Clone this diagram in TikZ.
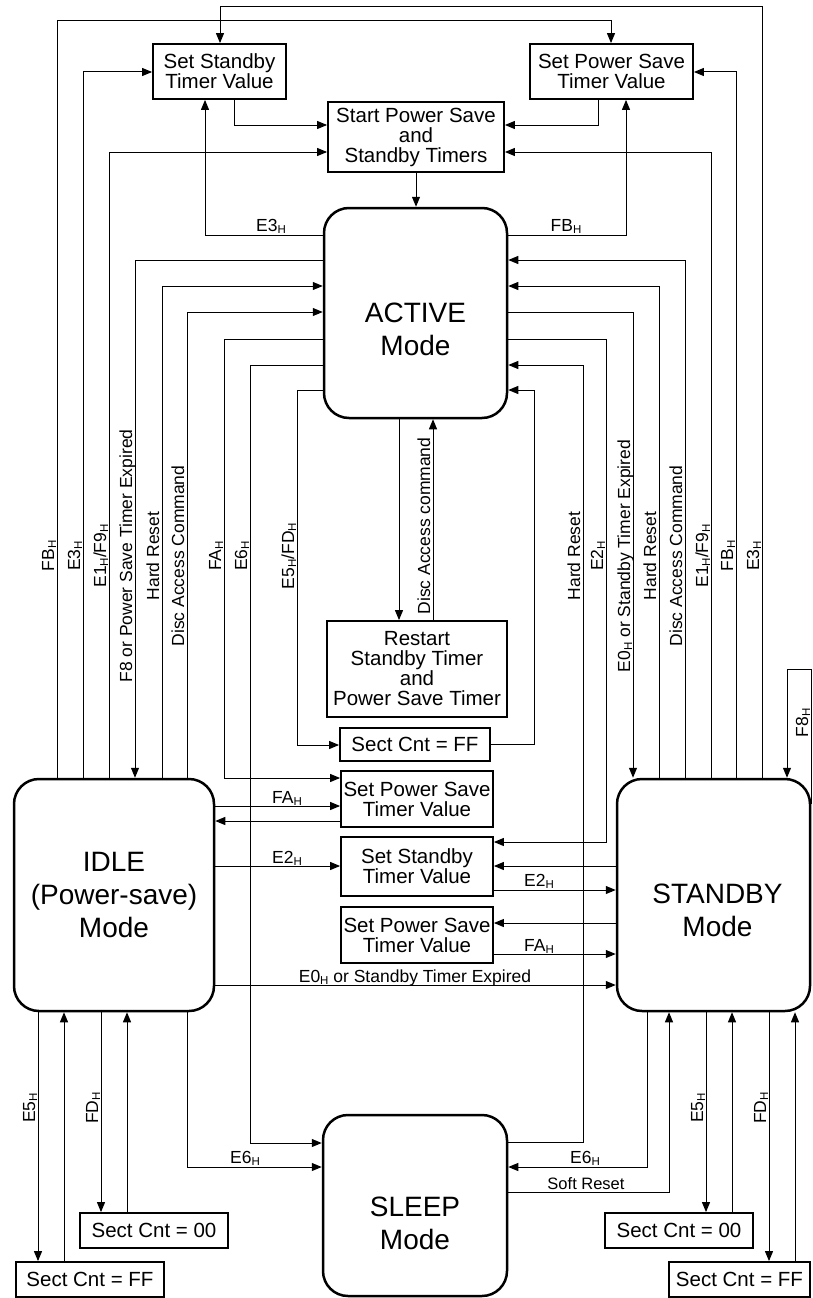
\documentclass[tikz,border=0pt]{standalone}
\usepackage{fontspec}
\setmainfont{Liberation Sans}
\usetikzlibrary{arrows.meta}
\newcommand\hs{\raisebox{-2pt}{\fontsize{11.5}{11.5}\selectfont H}}
\newcommand\boxfont{\fontsize{20.5}{20}\selectfont}
\newcommand\statefont{\fontsize{28}{33}\selectfont}
\newcommand\labfont{\fontsize{17.5}{18}\selectfont}
\begin{document}
\begin{tikzpicture}[x=1pt, y=-1pt,
  conn/.style={line width=1pt},
  arr/.style={conn, -{Triangle[length=10pt,width=8pt]}},
  box/.style={draw, line width=1.8pt, inner sep=0pt, align=center, font=\boxfont},
  state/.style={draw, line width=2.5pt, rounded corners=25pt, inner sep=0pt},
  stext/.style={align=center, font=\statefont, inner sep=0pt},
  lab/.style={font=\labfont, inner sep=0pt, anchor=base},
  vlab/.style={lab, rotate=90}]
\useasboundingbox (0,0) rectangle (812,1298);

% ---- nodes
\node[box, minimum width=133pt, minimum height=55pt] (setstby) at (219.5,71.5) {Set Standby\\Timer Value};
\node[box, minimum width=163pt, minimum height=55pt] (setps) at (611.5,71.5) {Set Power Save\\Timer Value};
\node[box, minimum width=176pt, minimum height=70pt] (start) at (416,137) {Start Power Save\\and\\Standby Timers};
\node[state, minimum width=183pt, minimum height=210pt, label={[stext,yshift=-16pt]center:ACTIVE\\Mode}] (active) at (415.5,313) {};
\node[box, minimum width=180pt, minimum height=96pt] (restart) at (417,669) {Restart\\Standby Timer\\and\\Power Save Timer};
\node[box, minimum width=150pt, minimum height=33pt] (sectffm) at (415,744.5) {Sect Cnt = FF};
\node[box, minimum width=152pt, minimum height=56pt] (box1) at (417,799) {Set Power Save\\Timer Value};
\node[box, minimum width=152pt, minimum height=59pt] (box2) at (417,866.5) {Set Standby\\Timer Value};
\node[box, minimum width=152pt, minimum height=56pt] (box3) at (417,935) {Set Power Save\\Timer Value};
\node[state, minimum width=200pt, minimum height=232pt, label={[stext]center:IDLE\\(Power-save)\\Mode}] (idle) at (114,895) {};
\node[state, minimum width=193pt, minimum height=232pt, label={[stext,xshift=4pt,yshift=-15pt]center:STANDBY\\Mode}] (standby) at (713.5,895) {};
\node[state, minimum width=184pt, minimum height=181pt, label={[stext,yshift=-18pt]center:SLEEP\\Mode}] (sleep) at (415,1205.5) {};
\node[box, minimum width=148pt, minimum height=35pt] (sect00l) at (154,1230.5) {Sect Cnt = 00};
\node[box, minimum width=148pt, minimum height=35pt] (sectffl) at (90,1279.5) {Sect Cnt = FF};
\node[box, minimum width=148pt, minimum height=35pt] (sect00r) at (679,1230.5) {Sect Cnt = 00};
\node[box, minimum width=141pt, minimum height=35pt] (sectffr) at (739.5,1279.5) {Sect Cnt = FF};

% ---- top connectors
\draw[arr] (762,0 |- standby.north) |- (220,7) -- (220,0 |- setstby.north);
\draw[arr] (57,0 |- idle.north) |- (611,21) -- (611,0 |- setps.north);
\draw[arr] (83,0 |- idle.north) |- (setstby.west |- 0,72);
\draw[arr] (736,0 |- standby.north) |- (setps.east |- 0,72);
\draw[arr] (109,0 |- idle.north) |- (start.west |- 0,152);
\draw[arr] (711,0 |- standby.north) |- (start.east |- 0,152);
\draw[arr] (234,0 |- setstby.south) |- (start.west |- 0,125);
\draw[arr] (598,0 |- setps.south) |- (start.east |- 0,125);
\draw[arr] (start.south) -- (start.south |- active.north);
\draw[arr] (active.west |- 0,235) -| (205,0 |- setstby.south);
\draw[arr] (active.east |- 0,235) -| (626,0 |- setps.south);

% ---- left of ACTIVE
\draw[arr] (active.west |- 0,260) -| (135,0 |- idle.north);
\draw[arr] (162,0 |- idle.north) |- (active.west |- 0,286);
\draw[arr] (187,0 |- idle.north) |- (active.west |- 0,312);
\draw[arr] (active.west |- 0,339) -| (224,778) -- (box1.west |- 0,778);
\draw[arr] (active.west |- 0,365) -| (250,1143) -- (sleep.west |- 0,1143);
\draw[arr] (active.west |- 0,390) -| (297,745) -- (sectffm.west |- 0,745);

% ---- right of ACTIVE
\draw[arr] (685,0 |- standby.north) |- (active.east |- 0,260);
\draw[arr] (659,0 |- standby.north) |- (active.east |- 0,286);
\draw[arr] (active.east |- 0,312) -| (633,0 |- standby.north);
\draw[arr] (active.east |- 0,339) -| (606,842) -- (box2.east |- 0,842);
\draw[arr] (sleep.east |- 0,1142) -| (583,365) -- (active.east |- 0,365);
\draw[arr] (sectffm.east |- 0,744) -| (534,390) -- (active.east |- 0,390);

% ---- ACTIVE <-> restart
\draw[arr] (399,0 |- active.south) -- (399,0 |- restart.north);
\draw[arr] (433,0 |- restart.north) -- (433,0 |- active.south);

% ---- IDLE / STANDBY and middle boxes
\draw[arr] (idle.east |- 0,806) -- (box1.west |- 0,806);
\draw[arr] (box1.west |- 0,821) -- (idle.east |- 0,821);
\draw[arr] (idle.east |- 0,866) -- (box2.west |- 0,866);
\draw[arr] (standby.west |- 0,866) -- (box2.east |- 0,866);
\draw[arr] (box2.east |- 0,890) -- (standby.west |- 0,890);
\draw[arr] (standby.west |- 0,923) -- (box3.east |- 0,923);
\draw[arr] (box3.east |- 0,954) -- (standby.west |- 0,954);
\draw[arr] (idle.east |- 0,985) -- (standby.west |- 0,985);

% ---- IDLE bottom
\draw[arr] (38,0 |- idle.south) -- (38,0 |- sectffl.north);
\draw[arr] (64,0 |- sectffl.north) -- (64,0 |- idle.south);
\draw[arr] (101,0 |- idle.south) -- (101,0 |- sect00l.north);
\draw[arr] (127,0 |- sect00l.north) -- (127,0 |- idle.south);
\draw[arr] (187,0 |- idle.south) |- (sleep.west |- 0,1167);

% ---- STANDBY bottom
\draw[arr] (647,0 |- standby.south) |- (sleep.east |- 0,1167);
\draw[arr] (sleep.east |- 0,1192) -| (669,0 |- standby.south);
\draw[arr] (706,0 |- standby.south) -- (706,0 |- sect00r.north);
\draw[arr] (732,0 |- sect00r.north) -- (732,0 |- standby.south);
\draw[arr] (769,0 |- standby.south) -- (769,0 |- sectffr.north);
\draw[arr] (795,0 |- sectffr.north) -- (795,0 |- standby.south);

% ---- F8 self loop
\draw[arr] (standby.east |- 0,804) |- (787,669) -- (787,0 |- standby.north);

% ---- horizontal labels
\node[lab] at (271,231.5) {E3\hs};
\node[lab] at (566,231.5) {FB\hs};
\node[lab] at (287,803) {FA\hs};
\node[lab] at (287,863) {E2\hs};
\node[lab] at (539,886) {E2\hs};
\node[lab] at (539,951) {FA\hs};
\node[lab] at (415,982) {E0\hs{} or Standby Timer Expired};
\node[lab] at (245,1163) {E6\hs};
\node[lab] at (585,1163) {E6\hs};
\node[lab, font=\fontsize{16.5}{17}\selectfont] at (586,1189) {Soft Reset};

% ---- vertical labels, left
\node[vlab] at (54,556) {FB\hs};
\node[vlab] at (80,556) {E3\hs};
\node[vlab] at (106,556) {E1\hs/F9\hs};
\node[vlab] at (132,556) {F8 or Power Save Timer Expired};
\node[vlab] at (159,556) {Hard Reset};
\node[vlab] at (184,556) {Disc Access Command};
\node[vlab] at (221,556) {FA\hs};
\node[vlab] at (247,556) {E6\hs};
\node[vlab] at (294,556) {E5\hs/FD\hs};
% ---- vertical labels, right
\node[vlab] at (580,556) {Hard Reset};
\node[vlab] at (603,556) {E2\hs};
\node[vlab] at (630,556) {E0\hs{} or Standby Timer Expired};
\node[vlab] at (656,556) {Hard Reset};
\node[vlab] at (682,556) {Disc Access Command};
\node[vlab] at (708,556) {E1\hs/F9\hs};
\node[vlab] at (733,556) {FB\hs};
\node[vlab] at (759,556) {E3\hs};
\node[vlab] at (430,526) {Disc Access command};
% ---- vertical labels, bottom
\node[vlab] at (35,1108) {E5\hs};
\node[vlab] at (98,1108) {FD\hs};
\node[vlab] at (703,1108) {E5\hs};
\node[vlab] at (766,1108) {FD\hs};
\node[vlab] at (808,723) {F8\hs};
\end{tikzpicture}
\end{document}
